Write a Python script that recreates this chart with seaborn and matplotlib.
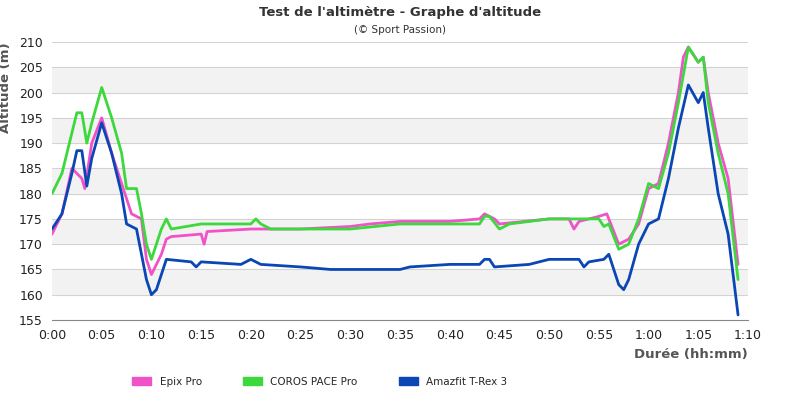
import numpy as np
import pandas as pd
import matplotlib.pyplot as plt
import seaborn as sns

#%% Data (minutes, altitude m)
t_epix = [0, 1, 2, 3, 3.3, 4, 5, 6, 7, 8, 9, 9.5, 10, 11, 11.5, 12, 15, 15.3, 15.6, 20, 25, 30, 32, 35, 40, 43, 43.5, 44.5, 45, 50, 52, 52.5, 53, 55, 55.8, 57, 58, 59, 60, 61, 62, 63, 63.5, 64, 65, 65.5, 66, 67, 68, 69]
a_epix = [172, 176, 185, 183, 181, 190, 195, 188, 182, 176, 175, 167, 164, 168, 171, 171.5, 172, 170, 172.5, 173, 173, 173.5, 174, 174.5, 174.5, 175, 176, 175, 174, 175, 175, 173, 174.5, 175.5, 176, 170, 171, 174, 181, 182, 190, 200, 207, 209, 206, 207, 200, 190, 183, 166]

t_coros = [0, 1, 2, 2.5, 3, 3.5, 4, 5, 6, 7, 7.5, 8.5, 9, 9.5, 10, 10.5, 11, 11.5, 12, 15, 20, 20.5, 21, 22, 25, 30, 35, 40, 43, 43.5, 44, 45, 46, 50, 55, 55.5, 56, 57, 58, 59, 60, 61, 62, 63, 64, 65, 65.5, 66, 67, 68, 69]
a_coros = [180, 184, 192, 196, 196, 190, 194, 201, 195, 188, 181, 181, 176, 170, 167, 170, 173, 175, 173, 174, 174, 175, 174, 173, 173, 173, 174, 174, 174, 175.5, 175.5, 173, 174, 175, 175, 173.5, 174, 169, 170, 175, 182, 181, 188, 198, 209, 206, 207, 198, 188, 180, 163]

t_amaz = [0, 1, 2, 2.5, 3, 3.5, 4, 5, 6, 7, 7.5, 8.5, 9, 9.5, 10, 10.5, 11, 11.5, 14, 14.5, 15, 19, 20, 21, 25, 28, 35, 36, 40, 43, 43.5, 44, 44.5, 48, 50, 53, 53.5, 54, 55.5, 56, 57, 57.5, 58, 59, 60, 61, 62, 63, 64, 65, 65.5, 66, 67, 68, 69]
a_amaz = [173, 176, 184, 188.5, 188.5, 181.5, 187, 194, 188, 180, 174, 173, 168, 163, 160, 161, 164, 167, 166.5, 165.5, 166.5, 166, 167, 166, 165.5, 165, 165, 165.5, 166, 166, 167, 167, 165.5, 166, 167, 167, 165.5, 166.5, 167, 168, 162, 161, 163, 170, 174, 175, 183, 193, 201.5, 198, 200, 193, 180, 172, 156]

series = [("Epix Pro", t_epix, a_epix, "#f052c8"),
          ("COROS PACE Pro", t_coros, a_coros, "#3cd83c"),
          ("Amazfit T-Rex 3", t_amaz, a_amaz, "#0a46b4")]

df = pd.concat([pd.DataFrame({"t": t, "alt": a, "montre": n}) for n, t, a, c in series])

#%% Plot
sns.set_style("white")
fig, ax = plt.subplots(figsize=(8, 4), dpi=100)
fig.subplots_adjust(left=0.065, right=0.935, top=0.895, bottom=0.2)

for lo in range(160, 205, 10):
    ax.axhspan(lo, lo + 5, color="#f2f2f2", zorder=0)
for y in range(155, 211, 5):
    ax.axhline(y, color="#cccccc", lw=0.6, zorder=0)

sns.lineplot(data=df, x="t", y="alt", hue="montre", palette=[c for *_, c in series],
             lw=2, ax=ax, legend=False, sort=False)

ax.set_xlim(0, 70)
ax.set_ylim(155, 210)
ax.set_yticks(range(155, 211, 5))
ax.set_xticks(range(0, 71, 5))
ax.set_xticklabels([f"{m // 60}:{m % 60:02d}" for m in range(0, 71, 5)])
ax.tick_params(labelsize=9, colors="#222222", length=3)
for s in ax.spines.values():
    s.set_visible(False)
ax.spines["bottom"].set_visible(True)
ax.spines["bottom"].set_color("#888888")

ax.set_xlabel("Durée (hh:mm)", fontsize=9.5, fontweight="bold", color="#555555", loc="right")
ax.set_ylabel("Altitude (m)", fontsize=9.5, fontweight="bold", color="#555555", loc="top")
ax.yaxis.set_label_coords(-0.058, 1.0)
fig.suptitle("Test de l'altimètre - Graphe d'altitude", y=0.985, fontsize=9.5, fontweight="bold", color="#333333")
fig.text(0.5, 0.918, "(© Sport Passion)", ha="center", fontsize=7.5, color="#333333")

handles = [plt.Rectangle((0, 0), 1, 1, fc=c, ec=c) for *_, c in series]
fig.legend(handles, [n for n, *_ in series], loc="lower center", ncol=3, frameon=False,
           fontsize=7.5, bbox_to_anchor=(0.4, 0.01), columnspacing=4, handlelength=1.8, handleheight=0.8)

fig.savefig("out.png")
